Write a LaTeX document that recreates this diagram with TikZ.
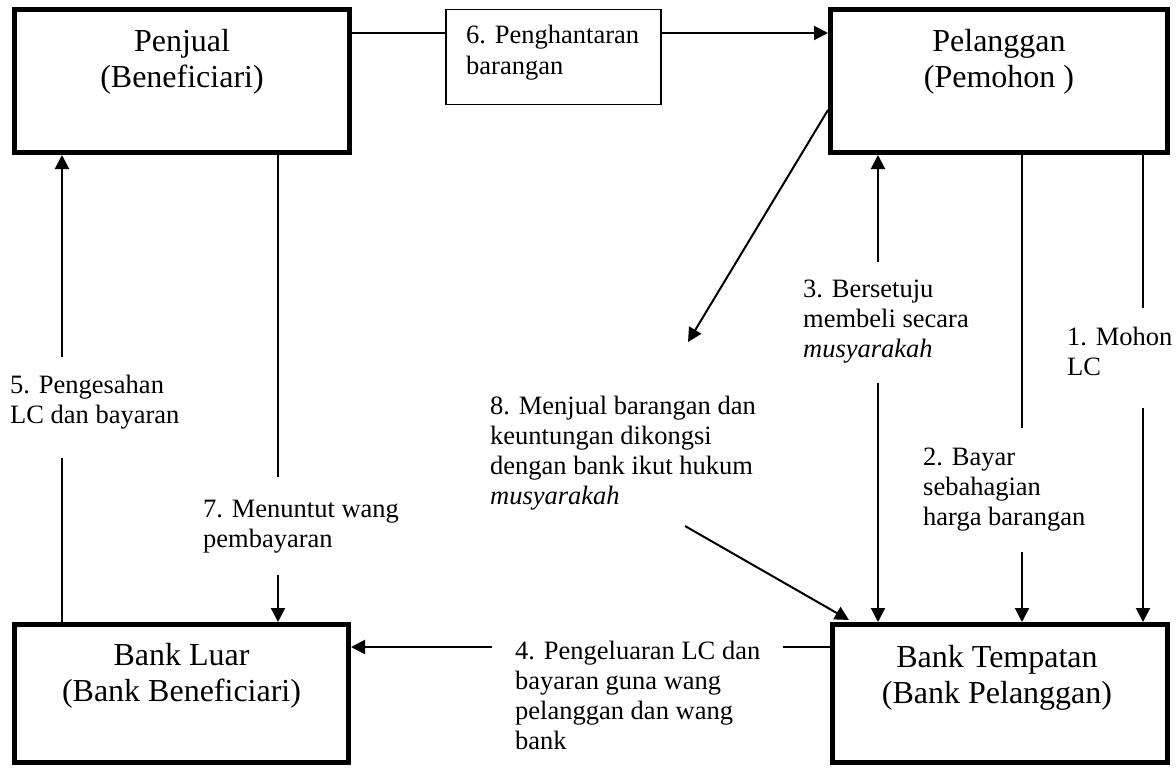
\documentclass[tikz,border=0pt]{standalone}
\usepackage{fontspec}
\setmainfont{Liberation Serif}
\usetikzlibrary{arrows.meta}
\begin{document}
\begin{tikzpicture}[x=1pt,y=-1pt,
  party/.style={draw,line width=5pt,minimum height=#1,inner sep=0pt},
  partytext/.style={anchor=base,align=center,inner sep=0pt,font=\fontsize{32}{36}\selectfont},
  lbl/.style={anchor=base west,align=left,inner sep=0pt,font=\fontsize{26.5}{30}\selectfont},
  flow/.style={line width=2pt},
  flowarrow/.style={line width=2pt,-{Triangle[length=14pt,width=14pt]}}
]
\useasboundingbox (0,0) rectangle (1176,768);

% parties
\node[party=143pt,minimum width=335pt] (penjual) at (182,81) {};
\node[party=143pt,minimum width=337pt] (pelanggan) at (999,81) {};
\node[party=138pt,minimum width=334pt] (bankluar) at (181.5,693.5) {};
\node[party=138pt,minimum width=335pt] (banktempatan) at (1000,693.5) {};

% texts of the parties (anchored at the baseline of the last line)
\node[partytext] (penjualtxt) at (182,88) {Penjual\\(Beneficiari)};
\node[partytext] (pelanggantxt) at (999,88) {Pelanggan\\(Pemohon )};
\node[partytext] (bankluartxt) at (181.5,701) {Bank Luar\\(Bank Beneficiari)};
\node[partytext] (banktempatantxt) at (997,703) {Bank Tempatan\\(Bank Pelanggan)};

% step labels (anchored at the baseline of the last line)
\node[draw,line width=1.5pt,minimum width=215pt,minimum height=94.5pt,inner sep=0pt] (box6) at (553.5,57) {};
\node[lbl,font=\fontsize{26.5}{32}\selectfont] (lab6) at (466,75) {6. Penghantaran\\barangan};
\node[lbl] (lab5) at (10,423) {5. Pengesahan\\LC dan bayaran};
\node[lbl] (lab7) at (203,547) {7. Menuntut wang\\pembayaran};
\node[lbl] (lab8) at (490,504) {8. Menjual barangan dan\\keuntungan dikongsi\\dengan bank ikut hukum\\\textit{musyarakah}};
\node[lbl] (lab3) at (803,357) {3. Bersetuju\\membeli secara\\\textit{musyarakah}};
\node[lbl] (lab2) at (923,525) {2. Bayar\\sebahagian\\harga barangan};
\node[lbl] (lab1) at (1067,375) {1. Mohon\\LC};
\node[lbl] (lab4) at (515,749) {4. Pengeluaran LC dan\\bayaran guna wang\\pelanggan dan wang\\bank};

% gap ends of the connectors
\coordinate (a6) at (400,33);
\coordinate (g5a) at (62,357);
\coordinate (g5b) at (62,458);
\coordinate (g7a) at (278,477);
\coordinate (g7b) at (278,575);
\coordinate (g4a) at (492,647);
\coordinate (g4b) at (783,647);
\coordinate (g8s) at (828,110);
\coordinate (g8a) at (688,342);
\coordinate (g8b) at (685,526);
\coordinate (g8e) at (849,620);
\coordinate (g3a) at (878,262);
\coordinate (g3b) at (878,383);
\coordinate (g2a) at (1022,428);
\coordinate (g2b) at (1022,552);
\coordinate (g1a) at (1143,308);
\coordinate (g1b) at (1143,408);

% 6
\draw[flow] (penjual.east |- a6) -- (box6.west |- a6);
\draw[flowarrow] (box6.east |- a6) -- (pelanggan.west |- a6);
% 5
\draw[flow] (bankluar.north -| g5b) -- (g5b);
\draw[flowarrow] (g5a) -- (penjual.south -| g5a);
% 7
\draw[flow] (penjual.south -| g7a) -- (g7a);
\draw[flowarrow] (g7b) -- (bankluar.north -| g7b);
% 4
\draw[flow] (banktempatan.west |- g4b) -- (g4b);
\draw[flowarrow] (g4a) -- (bankluar.east |- g4a);
% 8
\draw[flowarrow] (g8s) -- (g8a);
\draw[flowarrow] (g8b) -- (g8e);
% 3
\draw[flowarrow] (g3a) -- (pelanggan.south -| g3a);
\draw[flowarrow] (g3b) -- (banktempatan.north -| g3b);
% 2
\draw[flow] (pelanggan.south -| g2a) -- (g2a);
\draw[flowarrow] (g2b) -- (banktempatan.north -| g2b);
% 1
\draw[flow] (pelanggan.south -| g1a) -- (g1a);
\draw[flowarrow] (g1b) -- (banktempatan.north -| g1b);
\end{tikzpicture}
\end{document}
